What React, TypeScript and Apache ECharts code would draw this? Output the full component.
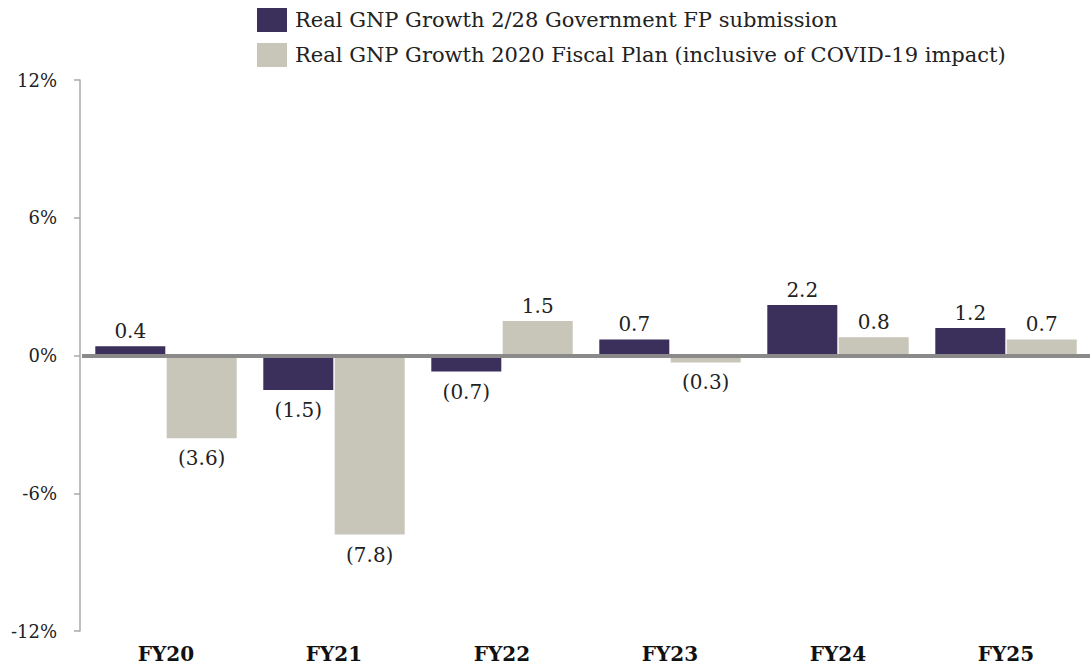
import React, { useEffect, useRef } from "react";
import * as echarts from "echarts";

const categories = ["FY20", "FY21", "FY22", "FY23", "FY24", "FY25"];
const seriesNames = [
  "Real GNP Growth 2/28 Government FP submission",
  "Real GNP Growth 2020 Fiscal Plan (inclusive of COVID-19 impact)",
];
const govFP = [0.4, -1.5, -0.7, 0.7, 2.2, 1.2];
const fiscalPlan2020 = [-3.6, -7.8, 1.5, -0.3, 0.8, 0.7];
const yTicks = { min: -12, max: 12, interval: 6 };

const FONT = "Georgia, 'DejaVu Serif', 'Liberation Serif', serif";
const DARK = "#3b2f5b";
const LIGHT = "#c8c6b9";

const fmt = (v: number) => (v < 0 ? `(${Math.abs(v).toFixed(1)})` : v.toFixed(1));

const toData = (vals: number[]) =>
  vals.map((v) => ({
    value: v,
    label: { position: v >= 0 ? "top" : "bottom", distance: v >= 0 ? 5 : 10 },
  }));

export default function App() {
  const ref = useRef<HTMLDivElement>(null);
  useEffect(() => {
    if (!ref.current) return;
    const chart = echarts.init(ref.current, undefined, { renderer: "svg" });
    const labelCfg = {
      show: true,
      fontFamily: FONT,
      fontSize: 20,
      color: "#222",
      formatter: (p: any) => fmt(p.value),
    };
    chart.setOption({
      animation: false,
      textStyle: { fontFamily: FONT },
      legend: {
        orient: "vertical",
        left: 252,
        top: 3,
        itemWidth: 30,
        itemHeight: 24,
        itemGap: 11,
        icon: "rect",
        textStyle: { fontFamily: FONT, fontSize: 21, color: "#222", padding: [0, 0, 0, 3] },
        data: seriesNames,
      },
      grid: { left: 82, right: -14, top: 80, bottom: 37 },
      xAxis: {
        type: "category",
        data: categories,
        axisLine: { show: false },
        axisTick: { show: false },
        axisLabel: {
          fontFamily: FONT,
          fontSize: 20,
          fontWeight: "bold",
          color: "#111",
          margin: 13,
        },
      },
      yAxis: {
        type: "value",
        min: yTicks.min,
        max: yTicks.max,
        interval: yTicks.interval,
        offset: 2,
        axisLine: { show: true, lineStyle: { color: "#aaaaaa", width: 1.5 } },
        axisTick: { show: true, length: 6, lineStyle: { color: "#aaaaaa", width: 1.5 } },
        splitLine: { show: false },
        axisLabel: {
          fontFamily: FONT,
          fontSize: 18,
          color: "#222",
          margin: 23,
          formatter: (v: number) => `${v}%`,
        },
      },
      series: [
        {
          name: seriesNames[0],
          type: "bar",
          data: toData(govFP),
          itemStyle: { color: DARK },
          barWidth: 70,
          barGap: "2%",
          label: labelCfg,
          markLine: {
            silent: true,
            symbol: "none",
            label: { show: false },
            lineStyle: { color: "#8a8a8a", width: 4, type: "solid" },
            data: [{ yAxis: 0 }],
            z: 5,
          },
        },
        {
          name: seriesNames[1],
          type: "bar",
          data: toData(fiscalPlan2020),
          itemStyle: { color: LIGHT },
          barWidth: 70,
          barGap: "2%",
          label: labelCfg,
        },
      ],
    });
    return () => chart.dispose();
  }, []);
  return (
    <div
      ref={ref}
      style={{ position: "fixed", left: 0, top: 0, width: 1090, height: 668, background: "#fff" }}
    />
  );
}
